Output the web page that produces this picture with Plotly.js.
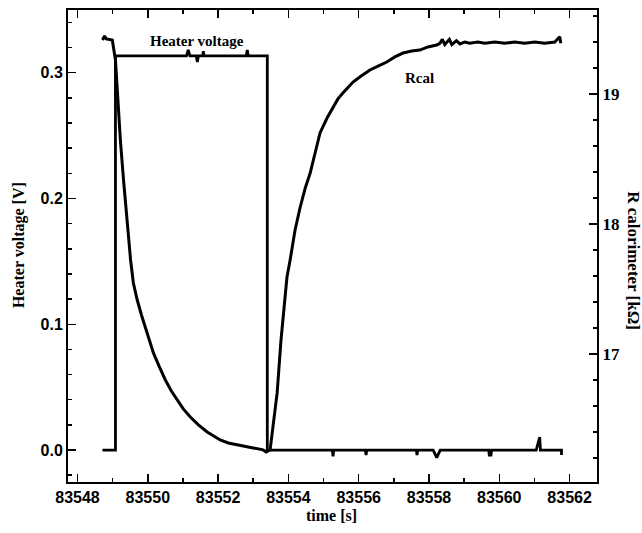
<!DOCTYPE html>
<html>
<head>
<meta charset="utf-8">
<script src="https://cdn.plot.ly/plotly-3.0.1.min.js"></script>
<style>
html,body{margin:0;padding:0;background:#fff;}
#chart{width:642px;height:533px;}
</style>
</head>
<body>
<div id="chart"></div>
<script>
// Heater voltage [V] vs time [s]
const heaterTime = [83548.71, 83549.08, 83549.08, 83551.10, 83551.15, 83551.20, 83551.38, 83551.41, 83551.44, 83551.56, 83551.58, 83551.60, 83552.80, 83552.83, 83552.86, 83553.40, 83553.40, 83555.25, 83555.27, 83555.29, 83556.19, 83556.21, 83556.23, 83557.64, 83557.66, 83557.68, 83558.12, 83558.22, 83558.32, 83559.70, 83559.72, 83559.74, 83559.76, 83559.78, 83561.05, 83561.13, 83561.15, 83561.17, 83561.77, 83561.77];
const heaterVolt = [0, 0, 0.3133, 0.3133, 0.318, 0.3133, 0.3133, 0.3085, 0.3133, 0.3133, 0.317, 0.3133, 0.3133, 0.318, 0.3133, 0.3133, 0, 0, -0.005, 0, 0, -0.004, 0, 0, -0.004, 0, 0, -0.006, 0, 0, -0.005, 0, -0.005, 0, 0, 0.0103, 0.0103, 0, 0, -0.004];

// R calorimeter [kOhm] vs time [s]
const rcalTime = [83548.71, 83548.77, 83548.82, 83548.99, 83549.08, 83549.14, 83549.22, 83549.31, 83549.42, 83549.51, 83549.59, 83549.70, 83549.82, 83549.93, 83550.05, 83550.16, 83550.33, 83550.50, 83550.67, 83550.84, 83551.01, 83551.21, 83551.44, 83551.69, 83551.86, 83552.06, 83552.29, 83552.54, 83552.77, 83553.00, 83553.28, 83553.37, 83553.48, 83553.57, 83553.68, 83553.79, 83553.88, 83553.96, 83554.05, 83554.19, 83554.33, 83554.48, 83554.62, 83554.76, 83554.90, 83555.10, 83555.27, 83555.41, 83555.55, 83555.70, 83555.84, 83556.07, 83556.32, 83556.55, 83556.80, 83557.03, 83557.26, 83557.51, 83557.74, 83557.97, 83558.22, 83558.31, 83558.38, 83558.45, 83558.58, 83558.65, 83558.78, 83558.88, 83559.02, 83559.16, 83559.39, 83559.59, 83559.87, 83560.16, 83560.44, 83560.72, 83561.01, 83561.29, 83561.58, 83561.72, 83561.75, 83561.77];
const rcalValue = [19.415, 19.446, 19.423, 19.415, 19.262, 18.954, 18.646, 18.338, 17.992, 17.723, 17.546, 17.415, 17.300, 17.208, 17.108, 17.008, 16.900, 16.800, 16.715, 16.646, 16.577, 16.515, 16.454, 16.400, 16.369, 16.338, 16.315, 16.300, 16.285, 16.277, 16.262, 16.246, 16.262, 16.454, 16.700, 17.108, 17.377, 17.592, 17.723, 17.954, 18.123, 18.277, 18.392, 18.554, 18.700, 18.815, 18.900, 18.962, 19.008, 19.054, 19.092, 19.138, 19.185, 19.215, 19.246, 19.285, 19.315, 19.331, 19.338, 19.362, 19.377, 19.39, 19.42, 19.38, 19.42, 19.38, 19.41, 19.385, 19.40, 19.39, 19.40, 19.39, 19.40, 19.39, 19.40, 19.39, 19.40, 19.39, 19.40, 19.44, 19.39];

const xTickVals = [83548, 83550, 83552, 83554, 83556, 83558, 83560, 83562];
const xTickText = ["83548", "83550", "83552", "83554", "83556", "83558", "83560", "83562"];
const yTickVals = [0.0, 0.1, 0.2, 0.3];
const yTickText = ["0.0", "0.1", "0.2", "0.3"];
const y2TickVals = [17, 18, 19];
const y2TickText = ["17", "18", "19"];

const sansBold = {family: "Liberation Sans, Arial, sans-serif", size: 16, color: "#000", weight: "bold"};
const serifBold = {family: "Liberation Serif, Times New Roman, serif", size: 16, color: "#000", weight: "bold"};

const traces = [
  {x: heaterTime, y: heaterVolt, type: "scatter", mode: "lines", name: "Heater voltage",
   line: {color: "#000", width: 2.8}, yaxis: "y", showlegend: false},
  {x: rcalTime, y: rcalValue, type: "scatter", mode: "lines", name: "Rcal",
   line: {color: "#000", width: 3}, yaxis: "y2", showlegend: false}
];

const axisCommon = {showgrid: false, zeroline: false, showline: true, linecolor: "#000", linewidth: 2,
  ticks: "inside", ticklen: 8, tickwidth: 1.5, tickcolor: "#000"};

const layout = {
  width: 642, height: 533,
  margin: {l: 68, r: 45, t: 10, b: 51},
  paper_bgcolor: "#fff", plot_bgcolor: "#fff",
  showlegend: false,
  xaxis: Object.assign({}, axisCommon, {
    range: [83547.73, 83562.78], tickvals: xTickVals, ticktext: xTickText,
    mirror: "ticks", tickfont: sansBold,
    minor: {dtick: 1, tick0: 83548, ticks: "inside", ticklen: 4, tickcolor: "#000", tickwidth: 1.5}
  }),
  yaxis: Object.assign({}, axisCommon, {
    range: [-0.0254, 0.3498], tickvals: yTickVals, ticktext: yTickText,
    tickfont: sansBold,
    minor: {dtick: 0.02, tick0: 0, ticks: "inside", ticklen: 4, tickcolor: "#000", tickwidth: 1.5}
  }),
  yaxis2: Object.assign({}, axisCommon, {
    overlaying: "y", side: "right",
    range: [16.015, 19.646], tickvals: y2TickVals, ticktext: y2TickText,
    tickfont: Object.assign({}, serifBold, {size: 17}),
    minor: {dtick: 0.2, tick0: 17, ticks: "inside", ticklen: 4, tickcolor: "#000", tickwidth: 1.5}
  }),
  annotations: [
    {text: "Heater voltage", xref: "x", yref: "y", x: 83551.41, y: 0.3252, showarrow: false,
     font: Object.assign({}, serifBold, {size: 15}), xanchor: "center", yanchor: "middle"},
    {text: "Rcal", xref: "x", yref: "y", x: 83557.74, y: 0.2958, showarrow: false,
     font: Object.assign({}, serifBold, {size: 15}), xanchor: "center", yanchor: "middle"},
    {text: "Heater voltage [V]", xref: "paper", yref: "paper", x: -0.0926, y: 0.502, showarrow: false,
     textangle: -90, font: serifBold, xanchor: "center", yanchor: "middle"},
    {text: "time [s]", xref: "paper", yref: "paper", x: 0.499, y: -0.072, showarrow: false,
     font: serifBold, xanchor: "center", yanchor: "middle"},
    {text: "R calorimeter [kΩ]", xref: "paper", yref: "paper", x: 1.07, y: 0.47, showarrow: false,
     textangle: 90, font: Object.assign({}, serifBold, {size: 17}), xanchor: "center", yanchor: "middle"}
  ]
};

Plotly.newPlot("chart", traces, layout, {displayModeBar: false, staticPlot: true});
</script>
</body>
</html>
